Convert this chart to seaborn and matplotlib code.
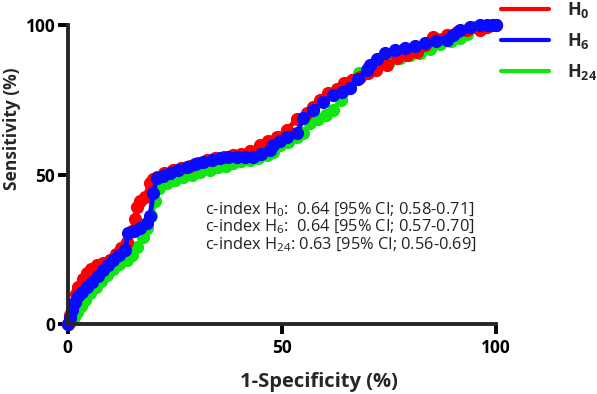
import seaborn as sns
import matplotlib.pyplot as plt
import pandas as pd
from matplotlib.lines import Line2D

# ROC points (1-specificity %, sensitivity %)
fpr_h0 = [0, 0.5, 1.2, 2, 2.5, 3.5, 4.4, 5.5, 6.8, 8.3, 9.9, 11.2, 12.5, 13.8, 15, 15.6,
          16.1, 16.9, 18, 19.2, 20, 20.8, 22.5, 24.5, 26.5, 28.5, 30.5, 32.5, 34.5, 36.5,
          38.5, 40.5, 42.5, 44.9, 46.8, 48.8, 51.1, 53.5, 55.8, 57.3, 58.9, 60.8, 62.8,
          64.5, 66.3, 68.2, 70.2, 72.1, 74.5, 76.8, 79.2, 81.5, 83.5, 85.4, 88.5, 90.8,
          93.2, 96.3, 98, 100]
tpr_h0 = [0, 3, 6.5, 10, 12.5, 15, 17, 18.5, 19.7, 20.5, 21.4, 23.5, 25.5, 27.5, 31, 35,
          39.2, 41, 42.6, 47, 48.5, 49.3, 50.5, 51.5, 52.3, 53, 54, 54.8, 55.5, 56,
          56.5, 57, 58, 59.9, 61.3, 62.6, 64.9, 68.5, 70.5, 72.7, 75, 77.2, 78.5,
          80.5, 81.5, 82.5, 83.8, 85, 86.5, 88.9, 90, 91.1, 93.2, 96.1, 96.7, 97.5,
          98.3, 98.3, 99.5, 100]

fpr_h6 = [0, 0.5, 1, 1.7, 2.5, 3.3, 4.5, 5.6, 7, 8.3, 9.5, 10.6, 12, 13.4, 14.1, 15.5,
          16.9, 18.4, 19.2, 20, 20.8, 22.3, 23.9, 25.8, 27.8, 29.7, 31.7, 33.6, 35.6,
          37.5, 39.5, 41.4, 43.3, 45.2, 47.2, 48, 49.6, 51.1, 53.5, 55, 57.3, 59.7, 62,
          64, 65.9, 67.8, 69.8, 70.6, 72.3, 74.1, 76.5, 78.8, 81.1, 83.4, 86, 88.5, 90,
          91.6, 94, 96.3, 98, 99.4, 100]
tpr_h6 = [0, 2, 4.7, 7.5, 9.5, 10.8, 12.5, 14.1, 16, 18.1, 19.8, 21.4, 23, 24.7, 30.3,
          31.2, 32, 33.7, 36, 43.7, 48.7, 49.5, 50.4, 51.5, 52.6, 53.5, 54.3, 55, 55.4,
          55.8, 56, 56, 56, 57, 58.2, 59.9, 61.2, 62.6, 63.8, 68.8, 71.6, 74.3, 76.6,
          77.6, 78.8, 82, 85, 86.6, 88.5, 90.5, 91.5, 92.2, 93, 93.9, 94.5, 95, 96.7,
          98.3, 99.2, 100, 100, 100, 100]

fpr_h24 = [0, 0.8, 1.5, 2.1, 3, 4, 5.2, 6.5, 7.8, 9.1, 10.5, 12, 13.8, 15, 16.1, 17.5,
           18.5, 19.5, 20.5, 21.3, 23.1, 25, 27, 29, 31, 33.2, 35, 36.9, 38.7, 40.5,
           42.5, 44.5, 46.5, 48, 49.6, 51.5, 53.5, 55, 56.6, 58.5, 60.2, 62, 63.8, 65.9,
           68, 70, 72.5, 75, 77.5, 80, 82.3, 84.5, 87, 89.5, 91.6, 93.2, 95, 97, 99, 100]
tpr_h24 = [0, 1, 2.5, 4.1, 6, 8, 10.3, 12.5, 14.5, 16.4, 18.5, 20, 21.4, 23, 25.9, 29,
           32, 36, 41, 45.5, 47, 48, 49, 50, 50.8, 51.5, 52.5, 53, 53.7, 54.5, 55, 55.5,
           56.5, 57.5, 59.9, 61, 62.5, 64, 67.1, 68.5, 70, 71.6, 75, 80, 83.8, 85.5,
           86.5, 87.5, 89, 90, 90.5, 92, 93.5, 94.5, 95.5, 97, 99.4, 99.8, 100, 100]

series = ["H0", "H6", "H24"]
labels = [r"$\mathbf{H_{0}}$", r"$\mathbf{H_{6}}$", r"$\mathbf{H_{24}}$"]
colors = {"H0": "#ff0000", "H6": "#0a0aff", "H24": "#11e611"}
c_index = ["0.64", "0.64", "0.63"]
ci_range = ["0.58-0.71", "0.57-0.70", "0.56-0.69"]

roc = pd.concat([
    pd.DataFrame({"fpr": fpr_h0, "tpr": tpr_h0, "time": "H0"}),
    pd.DataFrame({"fpr": fpr_h6, "tpr": tpr_h6, "time": "H6"}),
    pd.DataFrame({"fpr": fpr_h24, "tpr": tpr_h24, "time": "H24"}),
]).reset_index(drop=True)

sns.set_theme(style="ticks")
plt.rcParams["font.family"] = ["Open Sans", "DejaVu Sans"]
plt.rcParams["mathtext.fontset"] = "custom"
plt.rcParams["mathtext.rm"] = "Open Sans"
plt.rcParams["mathtext.it"] = "Open Sans:italic"
plt.rcParams["mathtext.bf"] = "Open Sans:bold"

fig, ax = plt.subplots(figsize=(5.97, 3.94), dpi=100)
fig.subplots_adjust(left=0.1134, right=0.8308, bottom=0.1777, top=0.9365)

# draw green, red, then blue on top
for key in ["H24", "H0", "H6"]:
    sns.lineplot(data=roc[roc["time"] == key], x="fpr", y="tpr", ax=ax,
                 sort=False, estimator=None, color=colors[key],
                 marker="o", markersize=9.5, markeredgewidth=0,
                 linewidth=3.5, clip_on=False, legend=False)

ax.set_xlim(0, 100)
ax.set_ylim(0, 100)
ax.set_xticks([0, 50, 100])
ax.set_yticks([0, 50, 100])
sns.despine(ax=ax)
for s in ["left", "bottom"]:
    ax.spines[s].set_linewidth(2.8)
ax.tick_params(width=2.8, length=7, labelsize=12.5, colors="black")
ax.tick_params(axis="y", pad=2)
ax.tick_params(axis="x", pad=3.5)
plt.setp(ax.get_xticklabels() + ax.get_yticklabels(), fontweight="bold")

ax.set_xlabel("1-Specificity (%)", fontsize=14.5, fontweight="bold")
ax.set_ylabel("Sensitivity (%)", fontsize=12.5, fontweight="bold")
ax.xaxis.set_label_coords(0.5856, -0.16)
ax.yaxis.set_label_coords(-0.109, 0.654)

# c-index annotations, one block of three lines
names = [r"H$_{0}$", r"H$_{6}$", r"H$_{24}$"]
gaps = [":  ", ":  ", ": "]
lines = [f"c-index {n}{g}{c} [95% CI; {r}]"
         for n, g, c, r in zip(names, gaps, c_index, ci_range)]
ax.text(32.1, 32.4, "\n".join(lines), fontsize=11.8, linespacing=0.95,
        va="center", ha="left", color="#222222")

handles = [Line2D([], [], color=colors[k], lw=3) for k in series]
fig.legend(handles=handles, labels=labels, loc="upper left",
           bbox_to_anchor=(497 / 597, 1.008), frameon=False, fontsize=13,
           handlelength=2.7, handletextpad=1.0, labelspacing=0.6,
           borderaxespad=0, borderpad=0.2)

fig.savefig("out.png", dpi=100)
